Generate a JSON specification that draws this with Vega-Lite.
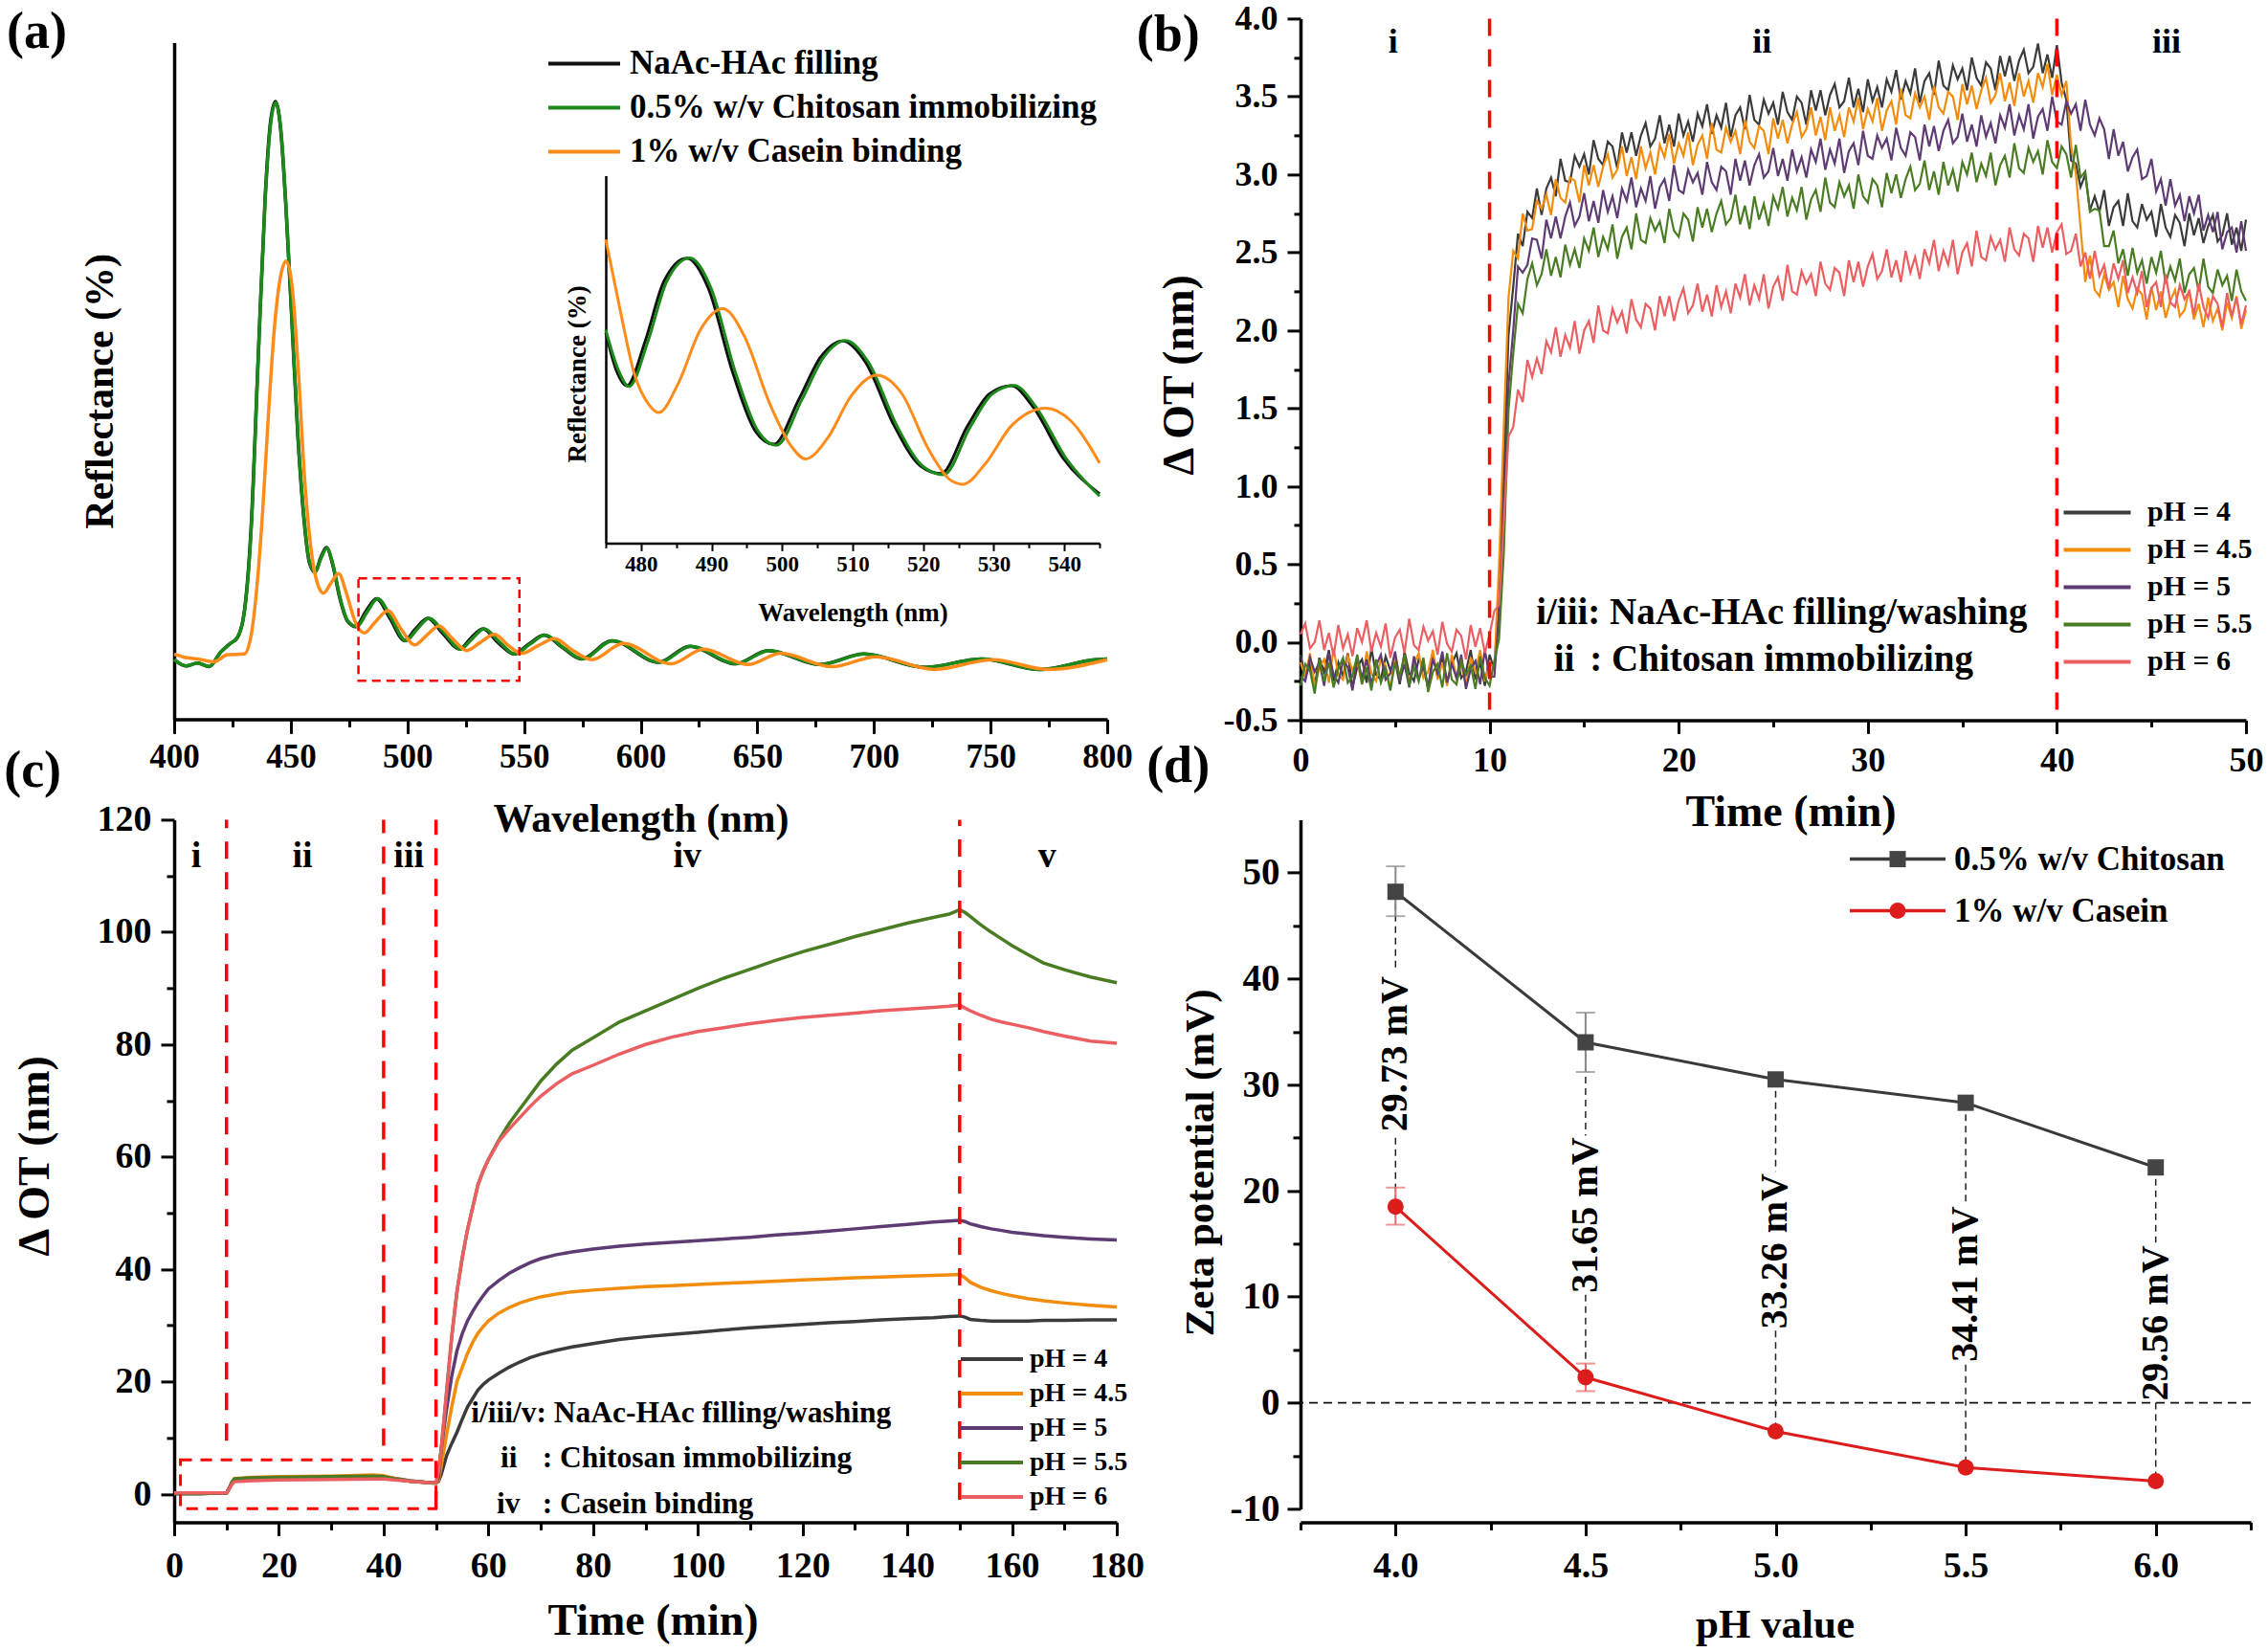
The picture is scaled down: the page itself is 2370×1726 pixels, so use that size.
{
"$schema":"https://vega.github.io/schema/vega-lite/v6.json",
"padding":{"left":4,"top":1.4,"right":5,"bottom":2},
"background":"white",
"config":{
 "view":{"stroke":null},
 "font":"Liberation Serif",
 "axis":{"labelFont":"Liberation Serif","labelFontWeight":"bold","titleFont":"Liberation Serif","titleFontWeight":"bold","labelColor":"#000","titleColor":"#000","domainColor":"#000","tickColor":"#000","domainWidth":3.5,"tickWidth":3,"grid":false,"labelFlush":false,"labelOverlap":false},
 "legend":{"labelFont":"Liberation Serif","labelFontWeight":"bold","labelColor":"#000","padding":0,"labelLimit":1000,"title":null},
 "text":{"font":"Liberation Serif","fontWeight":"bold","color":"#000"}
},
"datasets":{
 "a_k":[{"x":400,"y":8.5},{"x":405,"y":7.6},{"x":410,"y":8.0},{"x":415,"y":7.5},{"x":420,"y":9.6},{"x":424,"y":10.8},{"x":427,"y":11.6},{"x":430,"y":15.2},{"x":433,"y":27.5},{"x":436,"y":51.5},{"x":439,"y":74.5},{"x":441.2,"y":85},{"x":443.4,"y":88.2},{"x":445.7,"y":84},{"x":448,"y":72.5},{"x":450.5,"y":56.5},{"x":453,"y":40.5},{"x":455.5,"y":29},{"x":458,"y":22.3},{"x":460.3,"y":21},{"x":463,"y":23.2},{"x":465.3,"y":24.5},{"x":468,"y":22},{"x":471,"y":17.3},{"x":474.5,"y":13.9},{"x":477.9,"y":13.2},{"x":482,"y":15.3},{"x":486.8,"y":17.2},{"x":492.5,"y":14.4},{"x":498.8,"y":11.2},{"x":503.5,"y":12.9},{"x":508.7,"y":14.4},{"x":515.5,"y":12.1},{"x":522.4,"y":10},{"x":527,"y":11.5},{"x":532.4,"y":12.9},{"x":539,"y":10.9},{"x":545.6,"y":9.3},{"x":552,"y":10.7},{"x":558.6,"y":12},{"x":566.6,"y":10.2},{"x":574.6,"y":8.6},{"x":587.6,"y":11.2},{"x":607.6,"y":8.1},{"x":621,"y":10.4},{"x":640.6,"y":7.9},{"x":654.6,"y":9.8},{"x":676.6,"y":7.8},{"x":695.6,"y":9.3},{"x":721.6,"y":7.4},{"x":746,"y":8.6},{"x":771.2,"y":7.1},{"x":795,"y":8.5},{"x":800,"y":8.6}],
 "a_g":[{"x":400,"y":8.5},{"x":405,"y":7.6},{"x":410,"y":8.0},{"x":415,"y":7.5},{"x":420,"y":9.6},{"x":424,"y":10.8},{"x":427,"y":11.6},{"x":430,"y":15},{"x":433,"y":27},{"x":436,"y":51},{"x":439,"y":74},{"x":441.2,"y":84.5},{"x":443.5,"y":88},{"x":445.8,"y":84},{"x":448,"y":73},{"x":450.5,"y":57},{"x":453,"y":41},{"x":455.5,"y":29.5},{"x":458,"y":22.5},{"x":460.5,"y":21},{"x":463,"y":23},{"x":465.5,"y":24.4},{"x":468,"y":22.2},{"x":471,"y":17.5},{"x":474.5,"y":14},{"x":478.3,"y":13.2},{"x":482.5,"y":15.2},{"x":487.3,"y":17.2},{"x":493,"y":14.5},{"x":499.3,"y":11.2},{"x":504,"y":12.8},{"x":509.2,"y":14.4},{"x":516,"y":12.2},{"x":522.8,"y":10},{"x":527.5,"y":11.4},{"x":532.8,"y":12.9},{"x":539.5,"y":11},{"x":546,"y":9.3},{"x":552.5,"y":10.7},{"x":559,"y":12},{"x":567,"y":10.2},{"x":575,"y":8.6},{"x":588,"y":11.2},{"x":608,"y":8.1},{"x":621.5,"y":10.4},{"x":641,"y":7.9},{"x":655,"y":9.8},{"x":677,"y":7.8},{"x":696,"y":9.3},{"x":722,"y":7.4},{"x":746.5,"y":8.6},{"x":771.6,"y":7.1},{"x":795,"y":8.5},{"x":800,"y":8.6}],
 "a_o":[{"x":400,"y":9.3},{"x":405,"y":8.8},{"x":410,"y":8.6},{"x":417,"y":8.2},{"x":423,"y":9.2},{"x":430,"y":9.3},{"x":433,"y":12},{"x":435.5,"y":19},{"x":438,"y":30},{"x":440.5,"y":44},{"x":443,"y":56},{"x":445.5,"y":63},{"x":448,"y":65.4},{"x":450.5,"y":62},{"x":453,"y":51},{"x":456,"y":34},{"x":459,"y":23.5},{"x":461.5,"y":19.3},{"x":464,"y":18},{"x":467,"y":19.3},{"x":470.5,"y":20.8},{"x":474,"y":17.8},{"x":477.5,"y":14},{"x":481.5,"y":12.3},{"x":486,"y":13.8},{"x":491.7,"y":15.5},{"x":497,"y":13},{"x":503.2,"y":10.6},{"x":508,"y":11.9},{"x":513.6,"y":13.3},{"x":519,"y":11.6},{"x":525.5,"y":9.8},{"x":531,"y":10.9},{"x":537.4,"y":12.1},{"x":543,"y":10.6},{"x":549,"y":9.4},{"x":556,"y":10.5},{"x":563,"y":11.5},{"x":571,"y":9.8},{"x":579,"y":8.5},{"x":592.6,"y":10.8},{"x":613,"y":7.9},{"x":627,"y":10},{"x":646,"y":7.8},{"x":660,"y":9.4},{"x":682,"y":7.5},{"x":701,"y":8.9},{"x":726,"y":7.1},{"x":751,"y":8.5},{"x":774.6,"y":7.1},{"x":800,"y":8.5}],
 "i_k":[{"x":475,"y":57.3},{"x":476.5,"y":47},{"x":478,"y":42.8},{"x":480.6,"y":55},{"x":483.2,"y":71},{"x":486.5,"y":77.5},{"x":489.5,"y":69.5},{"x":493,"y":46.4},{"x":496.2,"y":30.5},{"x":498.8,"y":26.9},{"x":502.4,"y":39.2},{"x":505.5,"y":50.7},{"x":508.6,"y":55},{"x":511.8,"y":49.3},{"x":515.9,"y":31.9},{"x":519.6,"y":21},{"x":522.5,"y":18.9},{"x":526.3,"y":31.9},{"x":529.4,"y":40.6},{"x":532.5,"y":42.8},{"x":535.6,"y":37},{"x":539.8,"y":23.2},{"x":545,"y":13.4}],
 "i_g":[{"x":475,"y":58},{"x":476.7,"y":47.5},{"x":478.3,"y":42.6},{"x":481,"y":55},{"x":483.6,"y":71},{"x":486.9,"y":77.6},{"x":489.9,"y":69.5},{"x":493.4,"y":46.3},{"x":496.6,"y":30.4},{"x":499.2,"y":26.6},{"x":502.8,"y":39},{"x":505.9,"y":50.6},{"x":509,"y":55.1},{"x":512.2,"y":49.3},{"x":516.3,"y":31.8},{"x":520,"y":20.8},{"x":522.9,"y":18.6},{"x":526.7,"y":31.7},{"x":529.8,"y":40.6},{"x":532.9,"y":42.9},{"x":536,"y":37},{"x":540.2,"y":23.2},{"x":545,"y":12.8}],
 "i_o":[{"x":475,"y":82.6},{"x":477,"y":63.8},{"x":479,"y":46.4},{"x":481.1,"y":37.7},{"x":482.5,"y":35.5},{"x":485.3,"y":43.5},{"x":488.4,"y":58},{"x":491.6,"y":63.8},{"x":494.6,"y":56.5},{"x":498.3,"y":37.7},{"x":501.4,"y":26.1},{"x":503.3,"y":22.9},{"x":506.6,"y":29},{"x":509.7,"y":39.8},{"x":513.4,"y":45.7},{"x":517,"y":40.6},{"x":520.6,"y":26.1},{"x":523.7,"y":17.4},{"x":525.6,"y":16},{"x":528.9,"y":21.8},{"x":532.5,"y":31.9},{"x":537.4,"y":36.7},{"x":540.9,"y":33.3},{"x":545,"y":21.8}],
 "b":[
{"t":0,"A":-0.08,"B":-0.13,"C":-0.22,"D":-0.28,"E":0.05},{"t":0.25,"A":-0.23,"B":-0.22,"C":-0.25,"D":-0.14,"E":0.12},{"t":0.5,"A":-0.14,"B":-0.07,"C":-0.10,"D":-0.18,"E":-0.04},{"t":0.75,"A":-0.28,"B":-0.29,"C":-0.19,"D":-0.33,"E":0.00},
{"t":1,"A":-0.10,"B":-0.16,"C":-0.13,"D":-0.11,"E":0.14},{"t":1.25,"A":-0.19,"B":-0.11,"C":-0.28,"D":-0.25,"E":-0.05},{"t":1.5,"A":-0.05,"B":-0.26,"C":-0.07,"D":-0.13,"E":0.06},{"t":1.75,"A":-0.25,"B":-0.04,"C":-0.21,"D":-0.29,"E":-0.09},
{"t":2,"A":-0.13,"B":-0.21,"C":-0.26,"D":-0.17,"E":0.11},{"t":2.25,"A":-0.22,"B":-0.24,"C":-0.12,"D":-0.10,"E":-0.04},{"t":2.5,"A":-0.07,"B":-0.09,"C":-0.16,"D":-0.26,"E":0.05},{"t":2.75,"A":-0.29,"B":-0.18,"C":-0.31,"D":-0.22,"E":-0.09},
{"t":3,"A":-0.16,"B":-0.12,"C":-0.09,"D":-0.08,"E":0.09},{"t":3.25,"A":-0.11,"B":-0.27,"C":-0.23,"D":-0.27,"E":0.00},{"t":3.5,"A":-0.26,"B":-0.06,"C":-0.11,"D":-0.16,"E":0.14},{"t":3.75,"A":-0.04,"B":-0.20,"C":-0.27,"D":-0.31,"E":-0.06},
{"t":4,"A":-0.21,"B":-0.25,"C":-0.15,"D":-0.11,"E":0.06},{"t":4.25,"A":-0.24,"B":-0.11,"C":-0.08,"D":-0.26,"E":-0.03},{"t":4.5,"A":-0.09,"B":-0.15,"C":-0.24,"D":-0.17,"E":0.12},{"t":4.75,"A":-0.18,"B":-0.30,"C":-0.20,"D":-0.31,"E":-0.10},
{"t":5,"A":-0.12,"B":-0.08,"C":-0.06,"D":-0.13,"E":0.03},{"t":5.25,"A":-0.27,"B":-0.22,"C":-0.25,"D":-0.22,"E":0.08},{"t":5.5,"A":-0.06,"B":-0.10,"C":-0.14,"D":-0.08,"E":-0.07},{"t":5.75,"A":-0.20,"B":-0.26,"C":-0.29,"D":-0.28,"E":0.15},
{"t":6,"A":-0.25,"B":-0.14,"C":-0.09,"D":-0.16,"E":-0.02},{"t":6.25,"A":-0.11,"B":-0.07,"C":-0.24,"D":-0.25,"E":-0.05},{"t":6.5,"A":-0.15,"B":-0.23,"C":-0.15,"D":-0.10,"E":0.10},{"t":6.75,"A":-0.30,"B":-0.19,"C":-0.29,"D":-0.32,"E":0.01},
{"t":7,"A":-0.08,"B":-0.05,"C":-0.11,"D":-0.19,"E":0.07},{"t":7.25,"A":-0.22,"B":-0.24,"C":-0.20,"D":-0.14,"E":-0.08},{"t":7.5,"A":-0.10,"B":-0.13,"C":-0.06,"D":-0.29,"E":0.13},{"t":7.75,"A":-0.26,"B":-0.28,"C":-0.26,"D":-0.07,"E":-0.01},
{"t":8,"A":-0.14,"B":-0.08,"C":-0.14,"D":-0.24,"E":-0.06},{"t":8.25,"A":-0.07,"B":-0.23,"C":-0.23,"D":-0.27,"E":0.08},{"t":8.5,"A":-0.23,"B":-0.14,"C":-0.08,"D":-0.12,"E":0.04},{"t":8.75,"A":-0.19,"B":-0.28,"C":-0.30,"D":-0.21,"E":-0.11},
{"t":9,"A":-0.05,"B":-0.10,"C":-0.17,"D":-0.15,"E":0.11},{"t":9.25,"A":-0.24,"B":-0.19,"C":-0.12,"D":-0.30,"E":-0.03},{"t":9.5,"A":-0.13,"B":-0.05,"C":-0.27,"D":-0.09,"E":0.09},{"t":9.75,"A":-0.28,"B":-0.25,"C":-0.05,"D":-0.23,"E":-0.07},
{"t":10,"A":-0.08,"B":-0.13,"C":-0.22,"D":-0.28,"E":0.05},{"t":10.25,"A":-0.18,"B":-0.17,"C":-0.22,"D":-0.12,"E":0.20},{"t":10.5,"A":0.33,"B":0.50,"C":0.18,"D":0.02,"E":0.24},{"t":10.75,"A":1.09,"B":1.38,"C":0.89,"D":0.57,"E":0.78},
{"t":11,"A":1.97,"B":2.21,"C":1.65,"D":1.49,"E":1.32},{"t":11.25,"A":2.28,"B":2.51,"C":2.00,"D":1.85,"E":1.38},{"t":11.5,"A":2.62,"B":2.46,"C":2.41,"D":2.17,"E":1.62},{"t":11.75,"A":2.54,"B":2.75,"C":2.37,"D":2.11,"E":1.54},
{"t":12,"A":2.76,"B":2.64,"C":2.42,"D":2.33,"E":1.81},{"t":12.25,"A":2.72,"B":2.65,"C":2.59,"D":2.43,"E":1.70},{"t":12.5,"A":2.91,"B":2.83,"C":2.58,"D":2.29,"E":1.82},{"t":12.75,"A":2.74,"B":2.78,"C":2.46,"D":2.36,"E":1.72},
{"t":13,"A":2.91,"B":2.87,"C":2.71,"D":2.52,"E":1.93},{"t":13.25,"A":2.98,"B":2.74,"C":2.59,"D":2.35,"E":1.86},{"t":13.5,"A":2.86,"B":2.97,"C":2.73,"D":2.47,"E":2.02},{"t":13.75,"A":3.10,"B":2.85,"C":2.59,"D":2.34,"E":1.83},
{"t":14,"A":2.96,"B":2.82,"C":2.73,"D":2.55,"E":1.97},{"t":14.25,"A":2.95,"B":2.98,"C":2.82,"D":2.42,"E":1.89},{"t":14.5,"A":3.12,"B":2.96,"C":2.67,"D":2.52,"E":2.06},{"t":14.75,"A":3.05,"B":2.82,"C":2.73,"D":2.40,"E":1.85},
{"t":15,"A":3.13,"B":3.06,"C":2.88,"D":2.59,"E":2.00},{"t":15.25,"A":3.00,"B":2.93,"C":2.70,"D":2.51,"E":2.06},{"t":15.5,"A":3.22,"B":3.06,"C":2.83,"D":2.66,"E":1.92},{"t":15.75,"A":3.10,"B":2.92,"C":2.69,"D":2.47,"E":2.16},
{"t":16,"A":3.06,"B":3.05,"C":2.90,"D":2.60,"E":2.00},{"t":16.25,"A":3.21,"B":3.13,"C":2.76,"D":2.52,"E":1.98},{"t":16.5,"A":3.18,"B":2.98,"C":2.86,"D":2.68,"E":2.14},{"t":16.75,"A":3.04,"B":3.03,"C":2.72,"D":2.46,"E":2.05},
{"t":17,"A":3.27,"B":3.18,"C":2.91,"D":2.60,"E":2.12},{"t":17.25,"A":3.14,"B":2.99,"C":2.83,"D":2.66,"E":1.98},{"t":17.5,"A":3.27,"B":3.11,"C":2.98,"D":2.52,"E":2.20},{"t":17.75,"A":3.12,"B":2.97,"C":2.79,"D":2.75,"E":2.07},
{"t":18,"A":3.25,"B":3.18,"C":2.91,"D":2.58,"E":2.02},{"t":18.25,"A":3.33,"B":3.04,"C":2.83,"D":2.56,"E":2.17},{"t":18.5,"A":3.18,"B":3.14,"C":2.99,"D":2.72,"E":2.14},{"t":18.75,"A":3.23,"B":3.00,"C":2.78,"D":2.64,"E":2.00},
{"t":19,"A":3.38,"B":3.19,"C":2.92,"D":2.70,"E":2.22},{"t":19.25,"A":3.20,"B":3.11,"C":2.97,"D":2.56,"E":2.09},{"t":19.5,"A":3.32,"B":3.26,"C":2.83,"D":2.78,"E":2.22},{"t":19.75,"A":3.18,"B":3.07,"C":3.06,"D":2.64,"E":2.06},
{"t":20,"A":3.39,"B":3.20,"C":2.90,"D":2.60,"E":2.19},{"t":20.25,"A":3.25,"B":3.12,"C":2.88,"D":2.75,"E":2.27},{"t":20.5,"A":3.34,"B":3.27,"C":3.03,"D":2.71,"E":2.11},{"t":20.75,"A":3.21,"B":3.06,"C":2.95,"D":2.57,"E":2.16},
{"t":21,"A":3.39,"B":3.19,"C":3.01,"D":2.79,"E":2.30},{"t":21.25,"A":3.31,"B":3.25,"C":2.87,"D":2.66,"E":2.12},{"t":21.5,"A":3.45,"B":3.10,"C":3.08,"D":2.78,"E":2.23},{"t":21.75,"A":3.26,"B":3.33,"C":2.95,"D":2.63,"E":2.09},
{"t":22,"A":3.38,"B":3.16,"C":2.90,"D":2.75,"E":2.29},{"t":22.25,"A":3.30,"B":3.14,"C":3.05,"D":2.83,"E":2.15},{"t":22.5,"A":3.46,"B":3.30,"C":3.02,"D":2.68,"E":2.25},{"t":22.75,"A":3.24,"B":3.21,"C":2.87,"D":2.72,"E":2.11},
{"t":23,"A":3.38,"B":3.28,"C":3.10,"D":2.87,"E":2.30},{"t":23.25,"A":3.43,"B":3.13,"C":2.96,"D":2.68,"E":2.21},{"t":23.5,"A":3.29,"B":3.35,"C":3.09,"D":2.80,"E":2.36},{"t":23.75,"A":3.51,"B":3.21,"C":2.93,"D":2.65,"E":2.16},
{"t":24,"A":3.35,"B":3.17,"C":3.06,"D":2.86,"E":2.29},{"t":24.25,"A":3.32,"B":3.31,"C":3.13,"D":2.71,"E":2.20},{"t":24.5,"A":3.48,"B":3.28,"C":2.98,"D":2.81,"E":2.36},{"t":24.75,"A":3.39,"B":3.13,"C":3.02,"D":2.67,"E":2.14},
{"t":25,"A":3.46,"B":3.36,"C":3.17,"D":2.86,"E":2.28},{"t":25.25,"A":3.32,"B":3.23,"C":2.99,"D":2.78,"E":2.34},{"t":25.5,"A":3.53,"B":3.35,"C":3.10,"D":2.92,"E":2.19},{"t":25.75,"A":3.40,"B":3.20,"C":2.96,"D":2.73,"E":2.42},
{"t":26,"A":3.35,"B":3.32,"C":3.16,"D":2.85,"E":2.25},{"t":26.25,"A":3.50,"B":3.40,"C":3.02,"D":2.77,"E":2.23},{"t":26.5,"A":3.46,"B":3.24,"C":3.11,"D":2.92,"E":2.38},{"t":26.75,"A":3.32,"B":3.29,"C":2.98,"D":2.71,"E":2.30},
{"t":27,"A":3.54,"B":3.43,"C":3.16,"D":2.84,"E":2.36},{"t":27.25,"A":3.41,"B":3.25,"C":3.08,"D":2.90,"E":2.22},{"t":27.5,"A":3.54,"B":3.37,"C":3.23,"D":2.76,"E":2.44},{"t":27.75,"A":3.38,"B":3.22,"C":3.03,"D":2.98,"E":2.30},
{"t":28,"A":3.51,"B":3.43,"C":3.16,"D":2.82,"E":2.26},{"t":28.25,"A":3.58,"B":3.28,"C":3.07,"D":2.79,"E":2.40},{"t":28.5,"A":3.43,"B":3.38,"C":3.23,"D":2.95,"E":2.37},{"t":28.75,"A":3.47,"B":3.24,"C":3.01,"D":2.86,"E":2.22},
{"t":29,"A":3.62,"B":3.43,"C":3.15,"D":2.93,"E":2.45},{"t":29.25,"A":3.43,"B":3.34,"C":3.20,"D":2.78,"E":2.31},{"t":29.5,"A":3.55,"B":3.49,"C":3.06,"D":3.00,"E":2.44},{"t":29.75,"A":3.40,"B":3.29,"C":3.28,"D":2.86,"E":2.28},
{"t":30,"A":3.61,"B":3.42,"C":3.12,"D":2.82,"E":2.41},{"t":30.25,"A":3.47,"B":3.34,"C":3.10,"D":2.97,"E":2.49},{"t":30.5,"A":3.56,"B":3.49,"C":3.25,"D":2.93,"E":2.33},{"t":30.75,"A":3.43,"B":3.28,"C":3.17,"D":2.79,"E":2.38},
{"t":31,"A":3.61,"B":3.41,"C":3.23,"D":3.01,"E":2.52},{"t":31.25,"A":3.53,"B":3.47,"C":3.09,"D":2.88,"E":2.34},{"t":31.5,"A":3.67,"B":3.32,"C":3.30,"D":3.00,"E":2.45},{"t":31.75,"A":3.48,"B":3.55,"C":3.17,"D":2.85,"E":2.31},
{"t":32,"A":3.60,"B":3.38,"C":3.12,"D":2.97,"E":2.51},{"t":32.25,"A":3.52,"B":3.36,"C":3.27,"D":3.05,"E":2.37},{"t":32.5,"A":3.68,"B":3.52,"C":3.24,"D":2.90,"E":2.47},{"t":32.75,"A":3.46,"B":3.43,"C":3.09,"D":2.94,"E":2.33},
{"t":33,"A":3.60,"B":3.50,"C":3.32,"D":3.09,"E":2.52},{"t":33.25,"A":3.65,"B":3.35,"C":3.18,"D":2.90,"E":2.43},{"t":33.5,"A":3.51,"B":3.57,"C":3.31,"D":3.02,"E":2.58},{"t":33.75,"A":3.73,"B":3.43,"C":3.15,"D":2.87,"E":2.38},
{"t":34,"A":3.57,"B":3.39,"C":3.28,"D":3.08,"E":2.51},{"t":34.25,"A":3.54,"B":3.53,"C":3.35,"D":2.93,"E":2.42},{"t":34.5,"A":3.70,"B":3.50,"C":3.20,"D":3.03,"E":2.58},{"t":34.75,"A":3.61,"B":3.35,"C":3.24,"D":2.89,"E":2.36},
{"t":35,"A":3.68,"B":3.58,"C":3.39,"D":3.08,"E":2.50},{"t":35.25,"A":3.54,"B":3.45,"C":3.21,"D":3.00,"E":2.56},{"t":35.5,"A":3.75,"B":3.57,"C":3.32,"D":3.14,"E":2.41},{"t":35.75,"A":3.62,"B":3.42,"C":3.18,"D":2.95,"E":2.64},
{"t":36,"A":3.57,"B":3.54,"C":3.38,"D":3.07,"E":2.47},{"t":36.25,"A":3.72,"B":3.62,"C":3.24,"D":2.99,"E":2.45},{"t":36.5,"A":3.68,"B":3.46,"C":3.33,"D":3.14,"E":2.60},{"t":36.75,"A":3.54,"B":3.51,"C":3.20,"D":2.93,"E":2.52},
{"t":37,"A":3.76,"B":3.65,"C":3.38,"D":3.06,"E":2.58},{"t":37.25,"A":3.63,"B":3.47,"C":3.30,"D":3.12,"E":2.44},{"t":37.5,"A":3.76,"B":3.59,"C":3.45,"D":2.98,"E":2.66},{"t":37.75,"A":3.60,"B":3.44,"C":3.25,"D":3.20,"E":2.52},
{"t":38,"A":3.73,"B":3.65,"C":3.38,"D":3.04,"E":2.48},{"t":38.25,"A":3.80,"B":3.50,"C":3.29,"D":3.01,"E":2.62},{"t":38.5,"A":3.65,"B":3.60,"C":3.45,"D":3.17,"E":2.59},{"t":38.75,"A":3.69,"B":3.46,"C":3.23,"D":3.08,"E":2.44},
{"t":39,"A":3.84,"B":3.65,"C":3.37,"D":3.15,"E":2.67},{"t":39.25,"A":3.65,"B":3.56,"C":3.42,"D":3.00,"E":2.53},{"t":39.5,"A":3.77,"B":3.71,"C":3.28,"D":3.22,"E":2.66},{"t":39.75,"A":3.62,"B":3.51,"C":3.50,"D":3.08,"E":2.50},
{"t":40,"A":3.83,"B":3.64,"C":3.34,"D":3.04,"E":2.63},{"t":40.25,"A":3.59,"B":3.51,"C":3.32,"D":3.18,"E":2.68},{"t":40.5,"A":3.48,"B":3.60,"C":3.47,"D":3.13,"E":2.49},{"t":40.75,"A":3.09,"B":3.18,"C":3.39,"D":2.98,"E":2.51},
{"t":41,"A":3.07,"B":3.01,"C":3.45,"D":3.19,"E":2.62},{"t":41.25,"A":2.92,"B":2.66,"C":3.28,"D":2.98,"E":2.41},{"t":41.5,"A":3.00,"B":2.31,"C":3.48,"D":3.02,"E":2.50},{"t":41.75,"A":2.77,"B":2.48,"C":3.32,"D":2.76,"E":2.33},
{"t":42,"A":2.86,"B":2.26,"C":3.25,"D":2.78,"E":2.51},{"t":42.25,"A":2.76,"B":2.22,"C":3.36,"D":2.77,"E":2.35},{"t":42.5,"A":2.90,"B":2.36,"C":3.29,"D":2.54,"E":2.42},{"t":42.75,"A":2.67,"B":2.26,"C":3.10,"D":2.54,"E":2.27},
{"t":43,"A":2.79,"B":2.31,"C":3.29,"D":2.64,"E":2.43},{"t":43.25,"A":2.83,"B":2.15,"C":3.12,"D":2.43,"E":2.33},{"t":43.5,"A":2.67,"B":2.35,"C":3.21,"D":2.52,"E":2.45},{"t":43.75,"A":2.88,"B":2.20,"C":3.02,"D":2.35,"E":2.24},
{"t":44,"A":2.70,"B":2.14,"C":3.11,"D":2.53,"E":2.34},{"t":44.25,"A":2.66,"B":2.27,"C":3.16,"D":2.37,"E":2.24},{"t":44.5,"A":2.81,"B":2.23,"C":2.97,"D":2.45,"E":2.38},{"t":44.75,"A":2.71,"B":2.07,"C":2.99,"D":2.30,"E":2.15},
{"t":45,"A":2.76,"B":2.28,"C":3.10,"D":2.47,"E":2.27},{"t":45.25,"A":2.60,"B":2.13,"C":2.89,"D":2.37,"E":2.31},{"t":45.5,"A":2.81,"B":2.25,"C":2.97,"D":2.51,"E":2.15},{"t":45.75,"A":2.66,"B":2.08,"C":2.80,"D":2.30,"E":2.36},
{"t":46,"A":2.60,"B":2.19,"C":2.97,"D":2.41,"E":2.18},{"t":46.25,"A":2.74,"B":2.26,"C":2.80,"D":2.32,"E":2.15},{"t":46.5,"A":2.69,"B":2.09,"C":2.87,"D":2.46,"E":2.29},{"t":46.75,"A":2.54,"B":2.13,"C":2.70,"D":2.24,"E":2.20},
{"t":47,"A":2.75,"B":2.26,"C":2.86,"D":2.36,"E":2.25},{"t":47.25,"A":2.61,"B":2.07,"C":2.75,"D":2.40,"E":2.10},{"t":47.5,"A":2.72,"B":2.17,"C":2.87,"D":2.25,"E":2.30},{"t":47.75,"A":2.56,"B":2.02,"C":2.64,"D":2.46,"E":2.15},
{"t":48,"A":2.67,"B":2.21,"C":2.74,"D":2.28,"E":2.08},{"t":48.25,"A":2.74,"B":2.06,"C":2.63,"D":2.24,"E":2.22},{"t":48.5,"A":2.57,"B":2.14,"C":2.76,"D":2.39,"E":2.17},{"t":48.75,"A":2.61,"B":2.00,"C":2.52,"D":2.29,"E":2.02},
{"t":49,"A":2.75,"B":2.18,"C":2.63,"D":2.35,"E":2.24},{"t":49.25,"A":2.55,"B":2.08,"C":2.66,"D":2.19,"E":2.09},{"t":49.5,"A":2.66,"B":2.22,"C":2.50,"D":2.39,"E":2.21},{"t":49.75,"A":2.51,"B":2.01,"C":2.70,"D":2.25,"E":2.04},
{"t":50,"A":2.71,"B":2.13,"C":2.51,"D":2.19,"E":2.16}],
 "c":[
{"t":0,"A":0.1,"B":0.2,"C":0.1,"D":0.1,"E":0.2},
{"t":5,"A":0.1,"B":0.2,"C":0.1,"D":0.1,"E":0.2},
{"t":10,"A":0.2,"B":0.2,"C":0.2,"D":0.2,"E":0.2},
{"t":10.5,"A":1.0,"B":1.0,"C":1.0,"D":1.0,"E":0.9},
{"t":11,"A":2.0,"B":2.1,"C":2.0,"D":2.0,"E":1.7},
{"t":11.5,"A":2.6,"B":2.8,"C":2.6,"D":2.7,"E":2.2},
{"t":15,"A":2.8,"B":3.0,"C":2.8,"D":2.9,"E":2.4},
{"t":20,"A":2.9,"B":3.1,"C":2.9,"D":3.0,"E":2.5},
{"t":30,"A":3.0,"B":3.2,"C":3.0,"D":3.1,"E":2.6},
{"t":38,"A":3.1,"B":3.4,"C":3.1,"D":3.2,"E":2.7},
{"t":40,"A":3.1,"B":3.3,"C":3.0,"D":3.1,"E":2.7},
{"t":42,"A":2.8,"B":2.8,"C":2.7,"D":2.7,"E":2.5},
{"t":45,"A":2.4,"B":2.3,"C":2.3,"D":2.3,"E":2.3},
{"t":48,"A":2.1,"B":2.1,"C":2.1,"D":2.1,"E":2.1},
{"t":50,"A":2.0,"B":2.0,"C":2.0,"D":1.9,"E":2.0},
{"t":50.5,"A":2.3,"B":2.5,"C":3.0,"D":4.0,"E":4.0},
{"t":51,"A":3.5,"B":5.0,"C":8.0,"D":8.0,"E":8.0},
{"t":52,"A":6.8,"B":10.5,"C":15.0,"D":18.0,"E":18.0},
{"t":53,"A":9.0,"B":15.5,"C":21.0,"D":28.0,"E":28.0},
{"t":54,"A":11.0,"B":20.0,"C":25.5,"D":36.0,"E":36.0},
{"t":55,"A":13.3,"B":22.5,"C":28.5,"D":42.0,"E":42.0},
{"t":56,"A":15.5,"B":25.0,"C":30.8,"D":47.0,"E":47.0},
{"t":57,"A":17.0,"B":27.0,"C":32.5,"D":51.0,"E":51.0},
{"t":58,"A":18.5,"B":28.6,"C":34.0,"D":55.0,"E":55.0},
{"t":59,"A":19.5,"B":29.8,"C":35.3,"D":57.5,"E":57.5},
{"t":60,"A":20.3,"B":30.8,"C":36.5,"D":59.5,"E":59.5},
{"t":62,"A":21.5,"B":32.2,"C":38.0,"D":63.0,"E":62.8},
{"t":64,"A":22.6,"B":33.2,"C":39.3,"D":66.0,"E":65.0},
{"t":66,"A":23.5,"B":34.0,"C":40.3,"D":68.5,"E":67.0},
{"t":68,"A":24.3,"B":34.6,"C":41.2,"D":71.0,"E":69.0},
{"t":70,"A":24.9,"B":35.1,"C":41.9,"D":73.5,"E":70.8},
{"t":73,"A":25.6,"B":35.6,"C":42.6,"D":76.5,"E":73.0},
{"t":76,"A":26.2,"B":36.0,"C":43.1,"D":79.0,"E":74.8},
{"t":80,"A":26.8,"B":36.3,"C":43.6,"D":81.2,"E":76.3},
{"t":85,"A":27.5,"B":36.6,"C":44.1,"D":84.0,"E":78.3},
{"t":90,"A":28.0,"B":36.9,"C":44.5,"D":86.0,"E":80.0},
{"t":95,"A":28.4,"B":37.1,"C":44.8,"D":88.0,"E":81.3},
{"t":100,"A":28.8,"B":37.3,"C":45.1,"D":90.0,"E":82.3},
{"t":105,"A":29.2,"B":37.5,"C":45.4,"D":91.8,"E":83.0},
{"t":110,"A":29.6,"B":37.7,"C":45.7,"D":93.4,"E":83.7},
{"t":115,"A":29.9,"B":37.9,"C":46.1,"D":95.0,"E":84.3},
{"t":120,"A":30.2,"B":38.1,"C":46.4,"D":96.5,"E":84.8},
{"t":125,"A":30.5,"B":38.3,"C":46.8,"D":97.8,"E":85.2},
{"t":130,"A":30.7,"B":38.5,"C":47.2,"D":99.2,"E":85.6},
{"t":135,"A":31.0,"B":38.6,"C":47.6,"D":100.4,"E":86.0},
{"t":140,"A":31.2,"B":38.8,"C":48.0,"D":101.6,"E":86.3},
{"t":145,"A":31.4,"B":38.9,"C":48.4,"D":102.6,"E":86.6},
{"t":148,"A":31.6,"B":39.0,"C":48.6,"D":103.2,"E":86.8},
{"t":150,"A":31.7,"B":39.1,"C":48.7,"D":104.0,"E":87.0},
{"t":151,"A":31.5,"B":38.5,"C":48.5,"D":103.5,"E":86.5},
{"t":152,"A":31.1,"B":37.7,"C":48.1,"D":102.8,"E":86.0},
{"t":154,"A":30.9,"B":36.8,"C":47.6,"D":101.3,"E":85.2},
{"t":156,"A":30.8,"B":36.2,"C":47.2,"D":100.0,"E":84.5},
{"t":158,"A":30.8,"B":35.7,"C":46.9,"D":98.8,"E":84.0},
{"t":160,"A":30.8,"B":35.3,"C":46.6,"D":97.6,"E":83.6},
{"t":163,"A":30.8,"B":34.8,"C":46.3,"D":96.0,"E":83.0},
{"t":166,"A":30.9,"B":34.4,"C":46.0,"D":94.5,"E":82.3},
{"t":170,"A":30.9,"B":34.0,"C":45.7,"D":93.3,"E":81.5},
{"t":175,"A":31.0,"B":33.6,"C":45.4,"D":92.0,"E":80.6},
{"t":180,"A":31.0,"B":33.3,"C":45.2,"D":91.0,"E":80.2}],
 "d_pts":[{"pH":4.0,"s":"0.5% w/v Chitosan","z":48.2},{"pH":4.5,"s":"0.5% w/v Chitosan","z":34.0},{"pH":5.0,"s":"0.5% w/v Chitosan","z":30.5},{"pH":5.5,"s":"0.5% w/v Chitosan","z":28.3},{"pH":6.0,"s":"0.5% w/v Chitosan","z":22.2},{"pH":4.0,"s":"1% w/v Casein","z":18.5},{"pH":4.5,"s":"1% w/v Casein","z":2.4},{"pH":5.0,"s":"1% w/v Casein","z":-2.7},{"pH":5.5,"s":"1% w/v Casein","z":-6.1},{"pH":6.0,"s":"1% w/v Casein","z":-7.4}],
 "d_err":[{"pH":4.0,"s":"0.5% w/v Chitosan","lo":45.9,"hi":50.6},{"pH":4.5,"s":"0.5% w/v Chitosan","lo":31.2,"hi":36.8},{"pH":4.0,"s":"1% w/v Casein","lo":16.8,"hi":20.3},{"pH":4.5,"s":"1% w/v Casein","lo":1.1,"hi":3.7}]
},
"bounds":"flush",
"columns":2,
"spacing":{"row":104,"column":192},
"resolve":{"scale":{"color":"independent","shape":"independent"},"legend":{"color":"independent","shape":"independent"}},
"concat":[
 {"width":975,"height":732,
  "resolve":{"scale":{"x":"independent","y":"independent"},"axis":{"x":"independent","y":"independent"}},
  "layer":[
   {"layer":[
     {"data":{"name":"a_k"},"mark":{"type":"line","interpolate":"monotone","strokeWidth":3.5},
      "encoding":{
       "x":{"field":"x","type":"quantitative","scale":{"domain":[400,800],"nice":false,"zero":false},
            "axis":{"values":[400,425,450,475,500,525,550,575,600,625,650,675,700,725,750,775,800],"labelExpr":"datum.value % 50 === 0 ? datum.label : ''","tickSize":{"condition":{"test":"datum.value % 50 === 0","value":15},"value":8},"labelFontSize":35,"labelPadding":7,"title":"Wavelength (nm)","titleFontSize":42,"titleBaseline":"alphabetic","titleY":117}},
       "y":{"field":"y","type":"quantitative","scale":{"domain":[0,96.6],"range":[732,25],"nice":false,"zero":false},
            "axis":{"ticks":false,"labels":false,"title":"Reflectance (%)","titleFontSize":42,"titleX":-78,"titleY":389,"titleAngle":270,"titleAlign":"center","titleBaseline":"middle"}},
       "color":{"datum":"NaAc-HAc filling","type":"nominal","scale":{"domain":["NaAc-HAc filling","0.5% w/v Chitosan immobilizing","1% w/v Casein binding"],"range":["#111111","#1b8a1b","#ff8c1a"]},
            "legend":{"orient":"none","legendX":411,"legendY":29.5,"symbolType":"M-3,0H3","symbolSize":625,"symbolStrokeWidth":4,"labelFontSize":35,"labelOffset":30,"rowPadding":10}}}},
     {"data":{"name":"a_g"},"mark":{"type":"line","interpolate":"monotone","strokeWidth":3.5},
      "encoding":{"x":{"field":"x","type":"quantitative"},"y":{"field":"y","type":"quantitative"},
       "color":{"datum":"0.5% w/v Chitosan immobilizing","type":"nominal"}}},
     {"data":{"name":"a_o"},"mark":{"type":"line","interpolate":"monotone","strokeWidth":3.5},
      "encoding":{"x":{"field":"x","type":"quantitative"},"y":{"field":"y","type":"quantitative"},
       "color":{"datum":"1% w/v Casein binding","type":"nominal"}}},
     {"data":{"values":[{"x":479,"x2":548,"y":5.5,"y2":20.1}]},"mark":{"type":"rect","filled":false,"stroke":"#ff0000","strokeWidth":2.5,"strokeDash":[9,6]},
      "encoding":{"x":{"field":"x","type":"quantitative"},"x2":{"field":"x2"},"y":{"field":"y","type":"quantitative"},"y2":{"field":"y2"}}},
     {"data":{"values":[{"x":328.2,"y":95.78,"label":"(a)"}]},"mark":{"type":"text","fontSize":54,"align":"left","baseline":"alphabetic"},
      "encoding":{"x":{"field":"x","type":"quantitative"},"y":{"field":"y","type":"quantitative"},"text":{"field":"label"}}}
   ]},
   {"layer":[
     {"data":{"name":"i_k"},"mark":{"type":"line","interpolate":"monotone","strokeWidth":3},
      "encoding":{
       "x":{"field":"x","type":"quantitative","scale":{"domain":[475,545],"range":[451,967],"nice":false,"zero":false},
            "axis":{"orient":"bottom","offset":-184,"values":[475,480,485,490,495,500,505,510,515,520,525,530,535,540,545],"labelExpr":"datum.value % 10 === 0 ? datum.label : ''","tickSize":{"condition":{"test":"datum.value % 10 === 0","value":8},"value":5},"tickWidth":2,"domainWidth":2.5,"labelFontSize":23,"labelPadding":3,"title":"Wavelength (nm)","titleFontSize":27,"titleBaseline":"alphabetic","titleY":81}},
       "y":{"field":"y","type":"quantitative","scale":{"domain":[0,100],"range":[548,164],"nice":false,"zero":false},
            "axis":{"orient":"left","offset":-451,"ticks":false,"labels":false,"domainWidth":2.5,"title":"Reflectance (%)","titleFontSize":27,"titleX":-30,"titleY":371,"titleAngle":270,"titleAlign":"center","titleBaseline":"middle"}},
       "color":{"datum":"NaAc-HAc filling","type":"nominal"}}},
     {"data":{"name":"i_g"},"mark":{"type":"line","interpolate":"monotone","strokeWidth":3},
      "encoding":{"x":{"field":"x","type":"quantitative"},"y":{"field":"y","type":"quantitative"},
       "color":{"datum":"0.5% w/v Chitosan immobilizing","type":"nominal"}}},
     {"data":{"name":"i_o"},"mark":{"type":"line","interpolate":"monotone","strokeWidth":3},
      "encoding":{"x":{"field":"x","type":"quantitative"},"y":{"field":"y","type":"quantitative"},
       "color":{"datum":"1% w/v Casein binding","type":"nominal"}}}
   ]}
  ]},
 {"width":988,"height":733,
  "layer":[
   {"data":{"name":"b"},"transform":[{"fold":["A","B","C","D","E"],"as":["s","v"]}],
    "mark":{"type":"line","strokeWidth":2.2},
    "encoding":{
     "x":{"field":"t","type":"quantitative","scale":{"domain":[0,50],"nice":false,"zero":false},
          "axis":{"values":[0,5,10,15,20,25,30,35,40,45,50],"labelExpr":"datum.value % 10 === 0 ? datum.label : ''","tickSize":{"condition":{"test":"datum.value % 10 === 0","value":14},"value":7},"labelFontSize":36,"labelPadding":11,"title":"Time (min)","titleFontSize":46,"titleBaseline":"alphabetic","titleX":512,"titleY":110}},
     "y":{"field":"v","type":"quantitative","scale":{"domain":[-0.5,4],"nice":false,"zero":false},
          "axis":{"values":[-0.5,-0.25,0,0.25,0.5,0.75,1,1.25,1.5,1.75,2,2.25,2.5,2.75,3,3.25,3.5,3.75,4],"labelExpr":"abs(datum.value*2 - round(datum.value*2)) < 0.01 ? (datum.value < 0 ? '-' : '') + format(abs(datum.value), '.1f') : ''","tickSize":{"condition":{"test":"abs(datum.value*2 - round(datum.value*2)) < 0.01","value":14},"value":7},"labelFontSize":36,"labelPadding":10,"title":"Δ OT (nm)","titleFontSize":46,"titleX":-126,"titleY":372,"titleAngle":270,"titleAlign":"center","titleBaseline":"middle"}},
     "color":{"field":"s","type":"nominal","scale":{"domain":["A","B","C","D","E"],"range":["#3b3b3b","#f28c0c","#5e3b73","#4a7d23","#eb5f62"]},
          "legend":{"orient":"none","legendX":817.5,"legendY":501,"symbolType":"M-2.8,0H2.8","symbolSize":625,"symbolStrokeWidth":4,"labelFontSize":30,"labelOffset":37.5,"rowPadding":9,"labelExpr":"datum.label == 'A' ? 'pH = 4' : datum.label == 'B' ? 'pH = 4.5' : datum.label == 'C' ? 'pH = 5' : datum.label == 'D' ? 'pH = 5.5' : 'pH = 6'"}}}},
   {"data":{"values":[{"t":10},{"t":40}]},"mark":{"type":"rule","color":"#ff0000","strokeWidth":3.5,"strokeDash":[18,14]},
    "encoding":{"x":{"field":"t","type":"quantitative"}}},
   {"data":{"values":[{"t":4.9,"v":3.85,"label":"i"},{"t":24.4,"v":3.85,"label":"ii"},{"t":45.8,"v":3.85,"label":"iii"}]},
    "mark":{"type":"text","fontSize":36,"align":"center","baseline":"middle"},
    "encoding":{"x":{"field":"t","type":"quantitative"},"y":{"field":"v","type":"quantitative"},"text":{"field":"label"}}},
   {"data":{"values":[{"t":12.46,"v":0.19,"label":"i/iii: NaAc-HAc filling/washing"},{"t":13.4,"v":-0.11,"label":"ii"},{"t":15.3,"v":-0.11,"label":": Chitosan immobilizing"}]},
    "mark":{"type":"text","fontSize":39,"align":"left","baseline":"middle"},
    "encoding":{"x":{"field":"t","type":"quantitative"},"y":{"field":"v","type":"quantitative"},"text":{"field":"label"}}},
   {"data":{"values":[{"t":-8.67,"v":3.794,"label":"(b)"}]},"mark":{"type":"text","fontSize":54,"align":"left","baseline":"alphabetic"},
    "encoding":{"x":{"field":"t","type":"quantitative"},"y":{"field":"v","type":"quantitative"},"text":{"field":"label"}}}
  ]},
 {"width":985,"height":734,
  "layer":[
   {"data":{"name":"c"},"transform":[{"fold":["A","B","C","D","E"],"as":["s","v"]}],
    "mark":{"type":"line","strokeWidth":3.5},
    "encoding":{
     "x":{"field":"t","type":"quantitative","scale":{"domain":[0,180],"nice":false,"zero":false},
          "axis":{"values":[0,10,20,30,40,50,60,70,80,90,100,110,120,130,140,150,160,170,180],"labelExpr":"datum.value % 20 === 0 ? datum.label : ''","tickSize":{"condition":{"test":"datum.value % 20 === 0","value":14},"value":8},"labelFontSize":38,"labelPadding":13,"title":"Time (min)","titleFontSize":46,"titleBaseline":"alphabetic","titleX":500,"titleY":117}},
     "y":{"field":"v","type":"quantitative","scale":{"domain":[-5,120],"nice":false,"zero":false},
          "axis":{"values":[0,10,20,30,40,50,60,70,80,90,100,110,120],"labelExpr":"datum.value % 20 === 0 ? datum.label : ''","tickSize":{"condition":{"test":"datum.value % 20 === 0","value":14},"value":8},"labelFontSize":38,"labelPadding":10,"title":"Δ OT (nm)","titleFontSize":46,"titleX":-146,"titleY":351,"titleAngle":270,"titleAlign":"center","titleBaseline":"middle"}},
     "color":{"field":"s","type":"nominal","scale":{"domain":["A","B","C","D","E"],"range":["#3b3b3b","#f28c0c","#5e3b73","#4a7d23","#eb5f62"]},
          "legend":{"orient":"none","legendX":840,"legendY":549,"symbolType":"M-2.6,0H2.6","symbolSize":625,"symbolStrokeWidth":4,"labelFontSize":28,"labelOffset":25,"rowPadding":7,"labelExpr":"datum.label == 'A' ? 'pH = 4' : datum.label == 'B' ? 'pH = 4.5' : datum.label == 'C' ? 'pH = 5' : datum.label == 'D' ? 'pH = 5.5' : 'pH = 6'"}}}},
   {"data":{"values":[{"x":1.2,"x2":50,"y":-2.6,"y2":6.1}]},"mark":{"type":"rect","filled":false,"stroke":"#ff0000","strokeWidth":3,"strokeDash":[12,9]},
    "encoding":{"x":{"field":"x","type":"quantitative"},"x2":{"field":"x2"},"y":{"field":"y","type":"quantitative"},"y2":{"field":"y2"}}},
   {"data":{"values":[{"t":10,"y":9.5,"y2":120},{"t":40,"y":8.6,"y2":120},{"t":50,"y":-2.6,"y2":120},{"t":150,"y":-1,"y2":120}]},
    "mark":{"type":"rule","color":"#ff0000","strokeWidth":3.5,"strokeDash":[18,14]},
    "encoding":{"x":{"field":"t","type":"quantitative"},"y":{"field":"y","type":"quantitative"},"y2":{"field":"y2"}}},
   {"data":{"values":[{"t":4.2,"v":113.4,"label":"i"},{"t":24.5,"v":113.4,"label":"ii"},{"t":44.8,"v":113.4,"label":"iii"},{"t":98,"v":113.4,"label":"iv"},{"t":166.7,"v":113.4,"label":"v"}]},
    "mark":{"type":"text","fontSize":38,"align":"center","baseline":"middle"},
    "encoding":{"x":{"field":"t","type":"quantitative"},"y":{"field":"v","type":"quantitative"},"text":{"field":"label"}}},
   {"data":{"values":[{"t":56.7,"v":14.3,"label":"i/iii/v: NaAc-HAc filling/washing"},{"t":62.3,"v":6.3,"label":"ii"},{"t":70.3,"v":6.3,"label":": Chitosan immobilizing"},{"t":61.6,"v":-1.8,"label":"iv"},{"t":70.3,"v":-1.8,"label":": Casein binding"}]},
    "mark":{"type":"text","fontSize":31.5,"align":"left","baseline":"middle"},
    "encoding":{"x":{"field":"t","type":"quantitative"},"y":{"field":"v","type":"quantitative"},"text":{"field":"label"}}},
   {"data":{"values":[{"t":-32.5,"v":125.8,"label":"(c)"}]},"mark":{"type":"text","fontSize":54,"align":"left","baseline":"alphabetic"},
    "encoding":{"x":{"field":"t","type":"quantitative"},"y":{"field":"v","type":"quantitative"},"text":{"field":"label"}}}
  ]},
 {"width":993,"height":720,
  "resolve":{"scale":{"color":"independent","shape":"independent"},"legend":{"color":"independent","shape":"independent"}},
  "layer":[
   {"data":{"values":[{"z":0}]},"mark":{"type":"rule","strokeDash":[9,6],"strokeWidth":1.6,"color":"#111111"},
    "encoding":{"y":{"field":"z","type":"quantitative","scale":{"domain":[-10,55],"nice":false,"zero":false},
      "axis":{"values":[-10,-5,0,5,10,15,20,25,30,35,40,45,50],"labelExpr":"datum.value % 10 === 0 ? (datum.value < 0 ? '-' + abs(datum.value) : '' + datum.value) : ''","tickSize":{"condition":{"test":"datum.value % 10 === 0","value":14},"value":8},"labelFontSize":39,"labelPadding":8,"title":"Zeta potential (mV)","titleFontSize":43,"titleX":-104,"titleY":358,"titleAngle":270,"titleAlign":"center","titleBaseline":"middle"}}}},
   {"data":{"values":[{"pH":4.0,"z":48.2,"z2":41},{"pH":4.0,"z":25,"z2":18.5},{"pH":4.5,"z":34,"z2":25.2},{"pH":4.5,"z":10.2,"z2":2.4},{"pH":5.0,"z":30.5,"z2":21.8},{"pH":5.0,"z":6.8,"z2":-2.7},{"pH":5.5,"z":28.3,"z2":18.7},{"pH":5.5,"z":3.6,"z2":-6.1},{"pH":6.0,"z":22.2,"z2":15.1},{"pH":6.0,"z":0,"z2":-7.4}]},
    "mark":{"type":"rule","strokeDash":[7,5],"strokeWidth":1.5,"color":"#222222"},
    "encoding":{"x":{"field":"pH","type":"quantitative","scale":{"domain":[3.75,6.25],"nice":false,"zero":false},
      "axis":{"values":[3.75,4,4.25,4.5,4.75,5,5.25,5.5,5.75,6,6.25],"offset":14,"labelExpr":"abs(datum.value*2 - round(datum.value*2)) < 0.01 ? format(datum.value, '.1f') : ''","tickSize":{"condition":{"test":"abs(datum.value*2 - round(datum.value*2)) < 0.01","value":14},"value":8},"labelFontSize":38,"labelPadding":13,"title":"pH value","titleFontSize":43,"titleBaseline":"alphabetic","titleX":495.5,"titleY":120}},
      "y":{"field":"z","type":"quantitative"},"y2":{"field":"z2"}}},
   {"data":{"name":"d_err"},"mark":{"type":"rule","strokeWidth":2},
    "encoding":{"x":{"field":"pH","type":"quantitative"},"y":{"field":"lo","type":"quantitative"},"y2":{"field":"hi"},
     "color":{"field":"s","type":"nominal","scale":{"domain":["0.5% w/v Chitosan","1% w/v Casein"],"range":["#8a8a8a","#e86a6a"]},"legend":null}}},
   {"data":{"name":"d_err"},"mark":{"type":"tick","orient":"horizontal","size":20,"thickness":2},
    "encoding":{"x":{"field":"pH","type":"quantitative"},"y":{"field":"lo","type":"quantitative"},
     "color":{"field":"s","type":"nominal","scale":{"domain":["0.5% w/v Chitosan","1% w/v Casein"],"range":["#8a8a8a","#e86a6a"]},"legend":null}}},
   {"data":{"name":"d_err"},"mark":{"type":"tick","orient":"horizontal","size":20,"thickness":2},
    "encoding":{"x":{"field":"pH","type":"quantitative"},"y":{"field":"hi","type":"quantitative"},
     "color":{"field":"s","type":"nominal","scale":{"domain":["0.5% w/v Chitosan","1% w/v Casein"],"range":["#8a8a8a","#e86a6a"]},"legend":null}}},
   {"data":{"name":"d_pts"},"mark":{"type":"line","strokeWidth":3},
    "encoding":{"x":{"field":"pH","type":"quantitative"},"y":{"field":"z","type":"quantitative"},
     "color":{"field":"s","type":"nominal","scale":{"domain":["0.5% w/v Chitosan","1% w/v Casein"],"range":["#3a3a3a","#dd1c1c"]},
      "legend":{"orient":"none","legendX":606.5,"legendY":23.7,"symbolType":"M-4,0H4","symbolSize":625,"symbolStrokeWidth":3.5,"labelFontSize":35,"labelOffset":41.5,"rowPadding":18}}}},
   {"data":{"name":"d_pts"},"mark":{"type":"point","filled":true,"size":289,"opacity":1},
    "encoding":{"x":{"field":"pH","type":"quantitative"},"y":{"field":"z","type":"quantitative"},
     "color":{"field":"s","type":"nominal","scale":{"domain":["0.5% w/v Chitosan","1% w/v Casein"],"range":["#444444","#dd1c1c"]},
      "legend":{"orient":"none","legendX":606.5,"legendY":23.7,"symbolSize":289,"symbolStrokeWidth":0,"labelFontSize":35,"labelOpacity":0,"rowPadding":18}},
     "shape":{"field":"s","type":"nominal","scale":{"domain":["0.5% w/v Chitosan","1% w/v Casein"],"range":["square","circle"]},
      "legend":{"orient":"none","legendX":606.5,"legendY":23.7,"symbolSize":289,"symbolStrokeWidth":0,"labelFontSize":35,"labelOpacity":0,"rowPadding":18}}}},
   {"data":{"values":[{"pH":4.0,"z":32.9,"label":"29.73 mV"},{"pH":4.5,"z":17.7,"label":"31.65 mV"},{"pH":5.0,"z":14.3,"label":"33.26 mV"},{"pH":5.5,"z":11.2,"label":"34.41 mV"},{"pH":6.0,"z":7.5,"label":"29.56 mV"}]},
    "mark":{"type":"text","angle":270,"fontSize":40,"align":"center","baseline":"middle"},
    "encoding":{"x":{"field":"pH","type":"quantitative"},"y":{"field":"z","type":"quantitative"},"text":{"field":"label"}}},
   {"data":{"values":[{"pH":3.345,"z":58.52,"label":"(d)"}]},"mark":{"type":"text","fontSize":54,"align":"left","baseline":"alphabetic"},
    "encoding":{"x":{"field":"pH","type":"quantitative"},"y":{"field":"z","type":"quantitative"},"text":{"field":"label"}}}
  ]}
]
}
